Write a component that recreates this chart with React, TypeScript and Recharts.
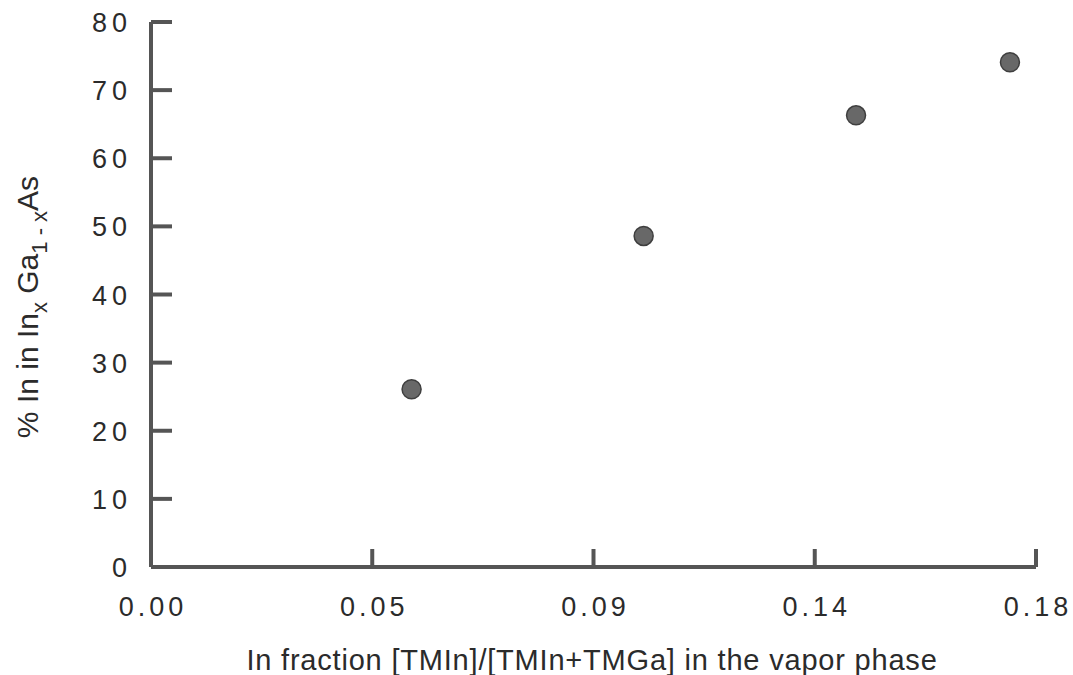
import React from "react";
import { ScatterChart, Scatter, XAxis, YAxis } from "recharts";

const vaporFraction = [0.053, 0.1002, 0.1434, 0.1747];
const inPercent = [26.1, 48.6, 66.3, 74.1];
const xTicks = [0, 0.045, 0.09, 0.135, 0.18];
const xTickLabels = ["0.00", "0.05", "0.09", "0.14", "0.18"];
const yTicks = [0, 10, 20, 30, 40, 50, 60, 70, 80];

const data = vaporFraction.map((x, i) => ({ x, y: inPercent[i] }));

const ink = "#555";
const textInk = "#2b2b2b";
const font = "'Liberation Sans', Arial, Helvetica, sans-serif";

function XTick(props: any) {
  const { x, y, index } = props;
  return (
    <g>
      {index > 0 && (
        <line x1={x} x2={x} y1={y} y2={y - 18} stroke={ink} strokeWidth={4} />
      )}
      <text
        x={x + 2}
        y={y + 49}
        textAnchor="middle"
        fontFamily={font}
        fontSize={27}
        letterSpacing={4}
        fill={textInk}
      >
        {xTickLabels[index]}
      </text>
    </g>
  );
}

function YTick(props: any) {
  const { x, y, payload } = props;
  return (
    <g>
      <line x1={x} x2={x + 21} y1={y} y2={y} stroke={ink} strokeWidth={4} />
      <text
        x={x - 19}
        y={y + 10}
        textAnchor="end"
        fontFamily={font}
        fontSize={27}
        letterSpacing={5}
        fill={textInk}
      >
        {payload.value}
      </text>
    </g>
  );
}

function YLabel() {
  const cx = 38;
  const cy = 307;
  return (
    <text
      transform={`rotate(-90 ${cx} ${cy})`}
      x={cx}
      y={cy}
      textAnchor="middle"
      fontFamily={font}
      fontSize={30}
      fill={textInk}
    >
      <tspan>% In in In</tspan>
      <tspan dy={9} fontSize={22}>x</tspan>
      <tspan dy={-9}> Ga</tspan>
      <tspan dy={9} fontSize={22}>1 - x</tspan>
      <tspan dy={-9}>As</tspan>
    </text>
  );
}

function XLabel() {
  return (
    <text
      x={592}
      y={670}
      textAnchor="middle"
      fontFamily={font}
      fontSize={29}
      letterSpacing={0.8}
      fill={textInk}
    >
      In fraction [TMIn]/[TMIn+TMGa] in the vapor phase
    </text>
  );
}

export default function App() {
  return (
    <div style={{ position: "absolute", left: 0, top: 0, background: "#fff" }}>
      <ScatterChart
        width={1073}
        height={675}
        margin={{ top: 22, right: 37, bottom: 0, left: 0 }}
      >
        <XAxis
          type="number"
          dataKey="x"
          domain={[0, 0.18]}
          ticks={xTicks}
          interval={0}
          height={108}
          tickSize={0}
          tickMargin={0}
          tickLine={false}
          axisLine={{ stroke: ink, strokeWidth: 4 }}
          tick={<XTick />}
          label={<XLabel />}
        />
        <YAxis
          type="number"
          dataKey="y"
          domain={[0, 80]}
          ticks={yTicks}
          interval={0}
          width={151}
          tickSize={0}
          tickMargin={0}
          tickLine={false}
          axisLine={{ stroke: ink, strokeWidth: 4 }}
          tick={<YTick />}
          label={<YLabel />}
        />
        <Scatter
          data={data}
          isAnimationActive={false}
          shape={(p: any) => (
            <circle cx={p.cx} cy={p.cy} r={9.5} fill="#686868" stroke="#3f3f3f" strokeWidth={1.5} />
          )}
        />
      </ScatterChart>
    </div>
  );
}
